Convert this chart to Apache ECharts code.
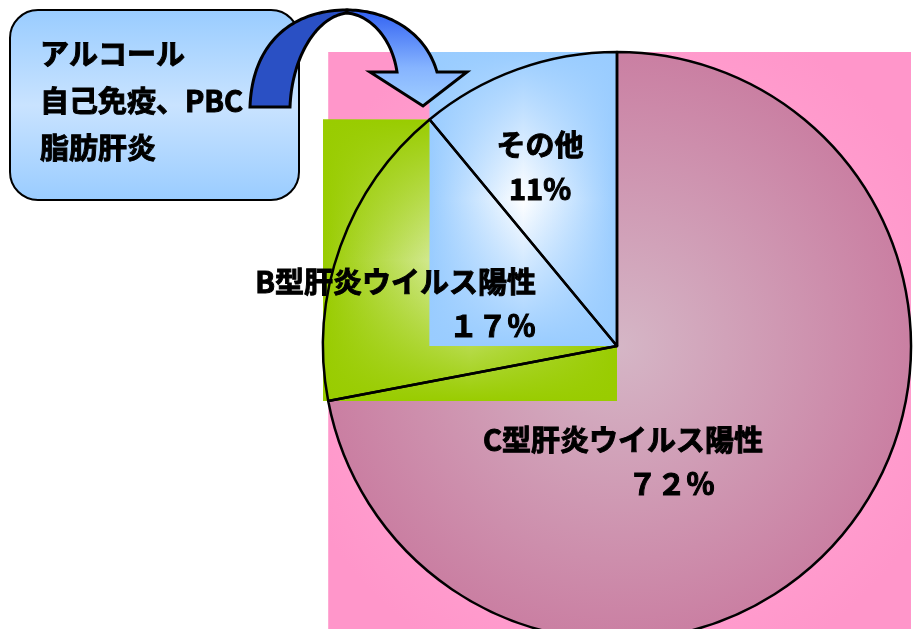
<!DOCTYPE html>
<html>
<head>
<meta charset="utf-8">
<script src="https://cdn.jsdelivr.net/npm/echarts@6/dist/echarts.min.js"></script>
<style>
html, body { margin: 0; padding: 0; background: #fff; }
#main { width: 919px; height: 629px; }
</style>
</head>
<body>
<div id="main"></div>
<script>
// 円グラフのデータ
var sliceNames  = ['その他', 'B型肝炎ウイルス陽性', 'C型肝炎ウイルス陽性'];
var sliceValues = [11, 17, 72];
var sliceShares = ['11%', '１７％', '７２％'];
var noteLines   = ['アルコール', '自己免疫、PBC', '脂肪肝炎'];

var FONT = '"Noto Sans CJK JP", "Noto Sans CJK SC", sans-serif';
var PIE_CENTER = [617, 346];
var PIE_R = 294;

// label spots per slice
var labelSpots = [
    {x: 540, y: 167, align: 'center', verticalAlign: 'middle'},
    {x: 536, y: 304, align: 'right', verticalAlign: 'middle'},
    {x: 483, y: 462, align: 'left', verticalAlign: 'middle'}
];

var chart = echarts.init(document.getElementById('main'));

var mauve = {
    type: 'radial', x: 0.5, y: 0.5, r: 0.55,
    colorStops: [
        {offset: 0, color: '#d5b6c6'},
        {offset: 1, color: '#c97a9f'}
    ]
};

var option = {
    animation: false,
    series: [
        {
            // 塗り
            type: 'pie', z: 1, silent: true,
            center: PIE_CENTER, radius: PIE_R,
            startAngle: 90, clockwise: false,
            label: {show: false}, labelLine: {show: false},
            data: sliceValues.map(function (v, i) {
                return {name: sliceNames[i], value: v,
                    itemStyle: {color: i === 2 ? mauve : 'rgba(0,0,0,0)', borderWidth: 0}};
            })
        },
        {
            // 輪郭とラベル
            type: 'pie', z: 4, silent: true,
            center: PIE_CENTER, radius: PIE_R,
            startAngle: 90, clockwise: false,
            itemStyle: {color: 'rgba(0,0,0,0)', borderColor: '#000', borderWidth: 2.5},
            label: {
                show: true, position: 'inside', color: '#000',
                fontFamily: FONT, fontSize: 29, fontWeight: 'bold', lineHeight: 44,
                textBorderColor: '#000', textBorderWidth: 1,
                formatter: function (p) {
                    var pad = p.dataIndex === 2 ? '　　　　　' : '';
                    return p.name + '\n' + pad + sliceShares[p.dataIndex];
                }
            },
            labelLine: {show: false},
            labelLayout: function (p) { return labelSpots[p.dataIndex]; },
            data: sliceValues.map(function (v, i) {
                return {name: sliceNames[i], value: v};
            })
        }
    ]
};
chart.setOption(option);

// bounding box of each slice, from the pie layout
var pieData = null;
try { pieData = chart.getModel().getSeriesByIndex(0).getData(); } catch (e) {}
var total = sliceValues.reduce(function (a, b) { return a + b; }, 0);
function sliceLayout(i) {
    if (pieData && pieData.getItemLayout(i)) return pieData.getItemLayout(i);
    var before = 0;
    for (var k = 0; k < i; k++) before += sliceValues[k];
    var s = -Math.PI / 2 - before / total * 2 * Math.PI;
    return {cx: PIE_CENTER[0], cy: PIE_CENTER[1], r: PIE_R,
        startAngle: s, endAngle: s - sliceValues[i] / total * 2 * Math.PI};
}
function sliceBox(i) {
    var l = sliceLayout(i);
    var xs = [l.cx], ys = [l.cy];
    for (var k = 0; k <= 240; k++) {
        var a = l.startAngle + (l.endAngle - l.startAngle) * k / 240;
        xs.push(l.cx + l.r * Math.cos(a));
        ys.push(l.cy + l.r * Math.sin(a));
    }
    var x0 = Math.min.apply(null, xs), y0 = Math.min.apply(null, ys);
    return {x: x0, y: y0, width: Math.max.apply(null, xs) - x0, height: Math.max.apply(null, ys) - y0};
}

// 矩形グラデーション (横 + 縦の重ね)
function boxFill(box, edge, mid, edgeClear, z) {
    return [
        {type: 'rect', z: z, silent: true, shape: box,
            style: {fill: {type: 'linear', x: 0, y: 0, x2: 1, y2: 0, colorStops: [
                {offset: 0, color: edge}, {offset: 0.5, color: mid}, {offset: 1, color: edge}]}}},
        {type: 'rect', z: z, z2: 1, silent: true, shape: box,
            style: {fill: {type: 'linear', x: 0, y: 0, x2: 0, y2: 1, colorStops: [
                {offset: 0, color: edge}, {offset: 0.5, color: edgeClear}, {offset: 1, color: edge}]}}}
    ];
}

function bez(p0, p1, p2, p3, n) {
    var pts = [];
    for (var i = 0; i <= n; i++) {
        var t = i / n, u = 1 - t;
        pts.push([
            u*u*u*p0[0] + 3*u*u*t*p1[0] + 3*u*t*t*p2[0] + t*t*t*p3[0],
            u*u*u*p0[1] + 3*u*u*t*p1[1] + 3*u*t*t*p2[1] + t*t*t*p3[1]
        ]);
    }
    return pts;
}

var arrowBack = bez([250, 107], [252, 45], [290, 10], [347, 10], 40)
    .concat(bez([347, 13], [318, 16], [292, 55], [290, 107], 40));
var arrowFront = bez([347, 10], [385, 10], [425, 30], [437, 72], 40)
    .concat([[467, 72], [423, 106], [370, 72]])
    .concat(bez([397, 72], [392, 38], [370, 15], [347, 13], 40));

var pinkBox = sliceBox(2), greenBox = sliceBox(1), blueBox = sliceBox(0);

var graphics = [
    {type: 'rect', z: 0, silent: true, shape: pinkBox,
        style: {fill: {type: 'radial', x: 0.5, y: 0.5, r: 0.6, colorStops: [
            {offset: 0, color: '#ffb4da'}, {offset: 1, color: '#ff96ca'}]}}}
]
.concat(boxFill(greenBox, '#99cc00', '#e6f3c2', 'rgba(153,204,0,0)', 2))
.concat(boxFill(blueBox, '#99ccff', '#ffffff', 'rgba(153,204,255,0)', 3))
.concat([
    {type: 'rect', z: 5, silent: true,
        shape: {x: 10, y: 10, width: 289, height: 190, r: 28},
        style: {stroke: '#000', lineWidth: 2,
            fill: {type: 'linear', x: 0, y: 0, x2: 0, y2: 1, colorStops: [
                {offset: 0, color: '#99ccff'}, {offset: 0.5, color: '#c9e3ff'}, {offset: 1, color: '#99ccff'}]}}},
    {type: 'text', z: 6, silent: true, x: 40, y: 30,
        style: {text: noteLines.join('\n'), fill: '#000', fontFamily: FONT,
            fontSize: 29, fontWeight: 'bold', lineHeight: 47, align: 'left', verticalAlign: 'top',
            stroke: '#000', lineWidth: 1}},
    {type: 'polygon', z: 7, silent: true, shape: {points: arrowBack},
        style: {fill: '#2a50c4', stroke: '#000', lineWidth: 3, lineJoin: 'miter'}},
    {type: 'polygon', z: 7, z2: 1, silent: true, shape: {points: arrowFront},
        style: {stroke: '#000', lineWidth: 3, lineJoin: 'miter',
            fill: {type: 'linear', x: 0, y: 0, x2: 0, y2: 1, colorStops: [
                {offset: 0, color: '#2f5ff2'}, {offset: 0.6, color: '#86b4ff'}, {offset: 1, color: '#a2d0ff'}]}}}
]);

chart.setOption({graphic: graphics});
</script>
</body>
</html>
